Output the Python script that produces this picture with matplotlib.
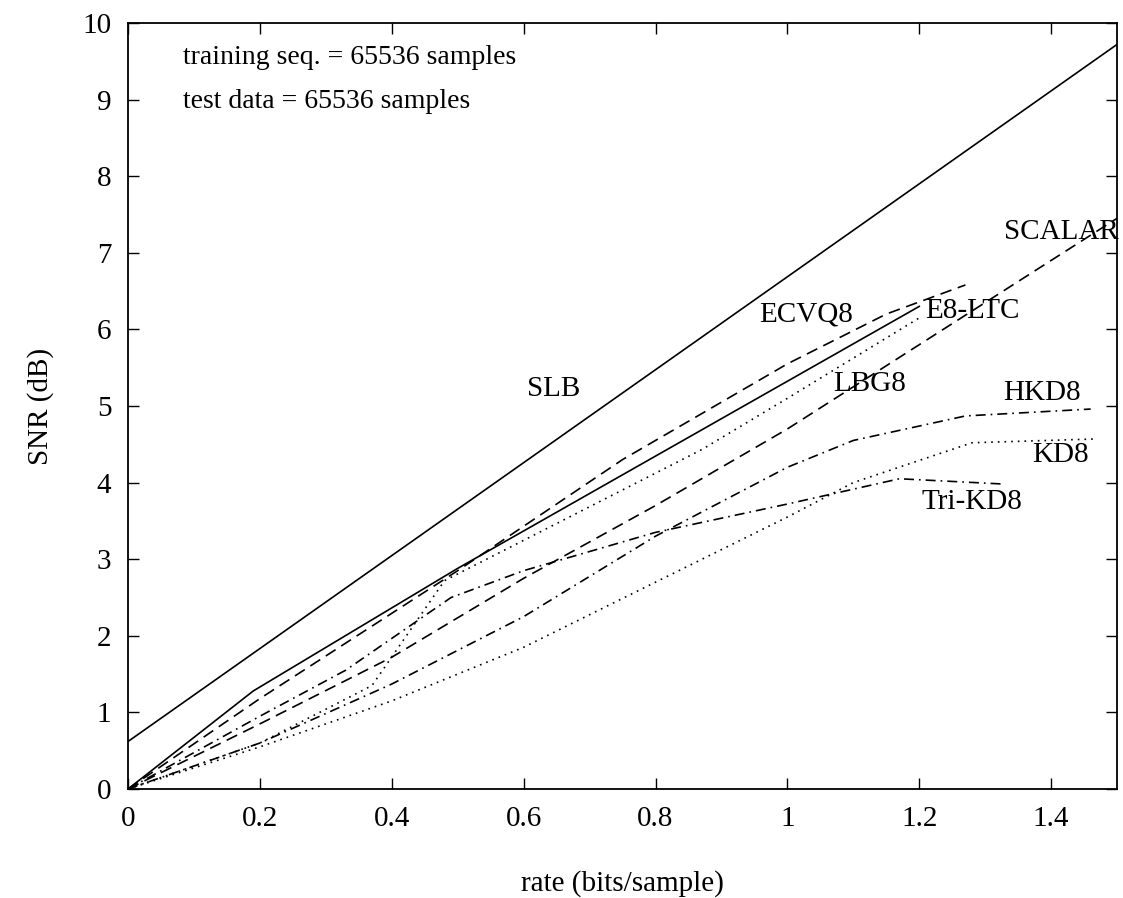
import matplotlib
matplotlib.use("Agg")
import matplotlib.pyplot as plt

plt.rcParams['font.family'] = ['Liberation Serif', 'DejaVu Serif']

# SNR (dB) versus rate (bits/sample) for each quantizer
rate_slb = [0.0, 1.5]
snr_slb = [0.62, 9.72]

rate_e8 = [0.0, 0.19, 0.5, 1.2]
snr_e8 = [0.0, 1.28, 2.88, 6.3]

rate_ecvq = [0.0, 0.2, 0.5, 0.75, 1.0, 1.15, 1.27]
snr_ecvq = [0.0, 1.18, 2.85, 4.3, 5.55, 6.2, 6.58]

rate_lbg = [0.0, 0.2, 0.37, 0.48, 0.87, 1.0, 1.2]
snr_lbg = [0.0, 0.6, 1.35, 2.72, 4.43, 5.1, 6.15]

rate_scalar = [0.0, 0.2, 0.4, 0.6, 0.8, 1.0, 1.2, 1.3, 1.5]
snr_scalar = [0.0, 0.85, 1.72, 2.75, 3.7, 4.7, 5.8, 6.35, 7.45]

rate_hkd = [0.0, 0.2, 0.4, 0.6, 0.8, 1.0, 1.1, 1.27, 1.46]
snr_hkd = [0.0, 0.6, 1.37, 2.25, 3.3, 4.2, 4.55, 4.87, 4.96]

rate_kd = [0.0, 0.2, 0.4, 0.6, 0.8, 1.0, 1.1, 1.28, 1.47]
snr_kd = [0.0, 0.55, 1.15, 1.85, 2.7, 3.55, 4.0, 4.52, 4.57]

rate_tri = [0.0, 0.2, 0.33, 0.49, 0.6, 0.8, 1.0, 1.17, 1.33]
snr_tri = [0.0, 0.95, 1.55, 2.5, 2.85, 3.35, 3.72, 4.05, 3.98]

curve_labels = ['SLB', 'ECVQ8', 'E8-LTC', 'LBG8', 'SCALAR', 'HKD8', 'KD8', 'Tri-KD8']
label_x = [0.605, 0.958, 1.209, 1.069, 1.328, 1.327, 1.371, 1.204]
label_y = [5.22, 6.2, 6.24, 5.29, 7.27, 5.17, 4.36, 3.75]

xticks = [0, 0.2, 0.4, 0.6, 0.8, 1, 1.2, 1.4]
xtick_labels = ['0', '0.2', '0.4', '0.6', '0.8', '1', '1.2', '1.4']
yticks = list(range(0, 11))

fig = plt.figure(figsize=(11.23, 8.98), dpi=100)
ax = fig.add_axes([0.114, 0.1214, 0.8807, 0.853])

dashed = (0, (7, 4))
dotted = (0, (1, 3))
dashdot = (0, (6, 3, 1, 3))
lw = 1.2

ax.plot(rate_slb, snr_slb, color='black', lw=lw, ls='-')
ax.plot(rate_e8, snr_e8, color='black', lw=lw, ls='-')
ax.plot(rate_ecvq, snr_ecvq, color='black', lw=lw, ls=dashed)
ax.plot(rate_lbg, snr_lbg, color='black', lw=lw, ls=dotted)
ax.plot(rate_scalar, snr_scalar, color='black', lw=lw, ls=dashed)
ax.plot(rate_hkd, snr_hkd, color='black', lw=lw, ls=dashdot)
ax.plot(rate_kd, snr_kd, color='black', lw=lw, ls=dotted)
ax.plot(rate_tri, snr_tri, color='black', lw=lw, ls=dashdot)

for name, lx, ly in zip(curve_labels, label_x, label_y):
    ax.text(lx, ly, name, fontsize=21, ha='left', va='center', clip_on=False)

ax.text(0.083, 9.55, 'training seq. = 65536 samples', fontsize=20, va='center')
ax.text(0.083, 8.97, 'test data = 65536 samples', fontsize=20, va='center')

ax.set_xlim(0, 1.5)
ax.set_ylim(0, 10)
ax.set_xticks(xticks)
ax.set_xticklabels(xtick_labels)
ax.set_yticks(yticks)
ax.tick_params(direction='in', length=8, width=1, top=True, right=True,
               labelsize=21, pad=12)
for sp in ax.spines.values():
    sp.set_linewidth(1.3)

ax.set_xlabel('rate (bits/sample)', fontsize=21, labelpad=28)
ax.set_ylabel('SNR (dB)', fontsize=21, labelpad=20)

fig.savefig('out.png', dpi=100, facecolor='white')
